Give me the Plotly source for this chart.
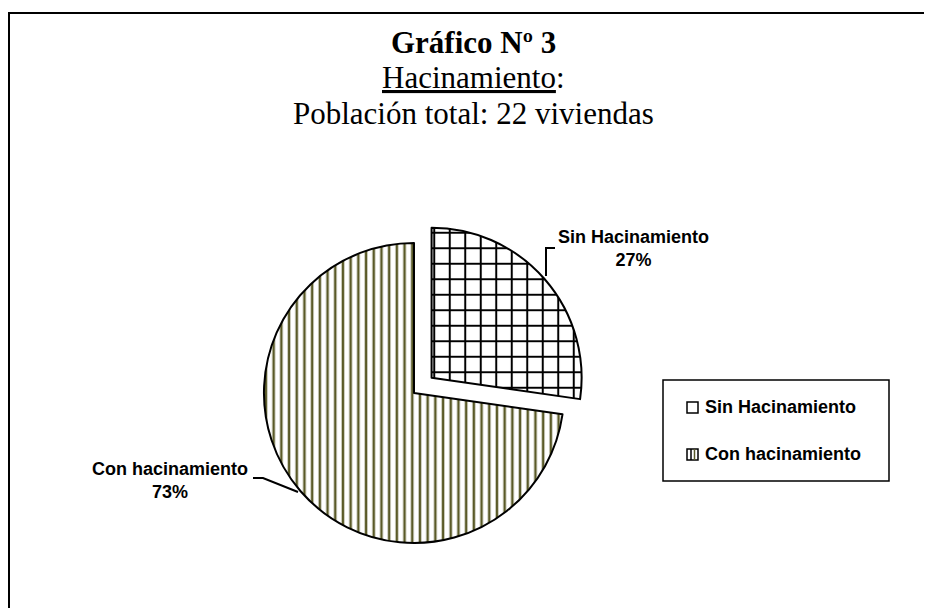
import plotly.graph_objects as go

W, H = 932, 608
OFF = 8  # page body margin around the figure

# ---- data ----
categories = ["Sin Hacinamiento", "Con hacinamiento"]
viviendas = [6, 16]
pulls = [0.155, 0.0]
title_lines = ["Gráfico Nº 3", "Hacinamiento", "Población total: 22 viviendas"]

total = sum(viviendas)
pcts = [round(v * 100 / total) for v in viviendas]


def px(x):
    # page-pixel x -> paper fraction
    return (x - OFF) / W


def py(y):
    # page-pixel y -> paper fraction
    return 1 - (y - OFF) / H


fig = go.Figure()
fig.add_trace(go.Pie(
    labels=categories,
    values=viviendas,
    sort=False,
    direction="clockwise",
    rotation=0,
    pull=pulls,
    textinfo="none",
    hoverinfo="skip",
    showlegend=False,
    domain=dict(x=[px(240.7), px(587.3)], y=[py(566.3), py(219.7)]),
    marker=dict(
        colors=["white", "white"],
        line=dict(color="black", width=2),
        pattern=dict(
            shape=["+", "|"],
            fgcolor=["black", "#5a5a28"],
            bgcolor=["white", "white"],
            size=[15.5, 7.7],
            solidity=[0.24, 0.33],
            fillmode="replace",
        ),
    ),
))

serif = "Liberation Serif, Times New Roman, serif"
sans = "Liberation Sans, Arial, sans-serif"
TFS = 31
TX = 473

ann = []
# title
ann.append(dict(text="<b>" + title_lines[0] + "</b>", x=px(TX), y=py(43),
                font=dict(family=serif, size=TFS, color="black")))
ann.append(dict(text="<u>" + title_lines[1] + "</u>:", x=px(TX), y=py(78),
                font=dict(family=serif, size=TFS, color="black")))
ann.append(dict(text=title_lines[2], x=px(TX), y=py(113),
                font=dict(family=serif, size=TFS, color="black")))

# data labels
label_pos = [(633, 249), (170, 480)]
for cat, p, (lx, ly) in zip(categories, pcts, label_pos):
    ann.append(dict(text=f"<b>{cat}<br>{p}%</b>", x=px(lx), y=py(ly),
                    font=dict(family=sans, size=18, color="black")))

# legend text
leg_y = [407, 454]
for cat, ly in zip(categories, leg_y):
    ann.append(dict(text=f"<b>{cat}</b>", x=px(703), y=py(ly), xanchor="left",
                    font=dict(family=sans, size=18, color="black")))

for a in ann:
    a.setdefault("xanchor", "center")
    a.update(xref="paper", yref="paper", yanchor="middle", showarrow=False)

shapes = []
# outer border (top + left visible)
shapes.append(dict(type="rect", xref="paper", yref="paper",
                   x0=px(9), x1=1.05, y0=-0.05, y1=py(13),
                   line=dict(color="black", width=2), fillcolor="rgba(0,0,0,0)"))
# legend box
shapes.append(dict(type="rect", xref="paper", yref="paper",
                   x0=px(663), x1=px(889), y0=py(481), y1=py(380),
                   line=dict(color="black", width=1.5), fillcolor="white", layer="below"))
# legend symbols
shapes.append(dict(type="rect", xref="paper", yref="paper",
                   x0=px(687), x1=px(698), y0=py(413), y1=py(402),
                   line=dict(color="black", width=1.5), fillcolor="white"))
shapes.append(dict(type="rect", xref="paper", yref="paper",
                   x0=px(687), x1=px(698), y0=py(460), y1=py(449),
                   line=dict(color="black", width=1.5), fillcolor="white"))
shapes.append(dict(type="line", xref="paper", yref="paper",
                   x0=px(691), x1=px(691), y0=py(460), y1=py(449),
                   line=dict(color="black", width=1.5)))
shapes.append(dict(type="line", xref="paper", yref="paper",
                   x0=px(694.5), x1=px(694.5), y0=py(460), y1=py(449),
                   line=dict(color="#5a5a28", width=1.5)))
# leader lines
shapes.append(dict(type="path", xref="paper", yref="paper",
                   path=f"M {px(555)},{py(248)} L {px(546)},{py(248)} L {px(546)},{py(276)}",
                   line=dict(color="black", width=2)))
shapes.append(dict(type="path", xref="paper", yref="paper",
                   path=f"M {px(253)},{py(478)} L {px(263)},{py(478)} L {px(298)},{py(492)}",
                   line=dict(color="black", width=2)))

fig.update_layout(
    width=W, height=H,
    margin=dict(l=0, r=0, t=0, b=0),
    paper_bgcolor="white",
    plot_bgcolor="white",
    annotations=ann,
    shapes=shapes,
    showlegend=False,
)

fig.write_html("out.html")
